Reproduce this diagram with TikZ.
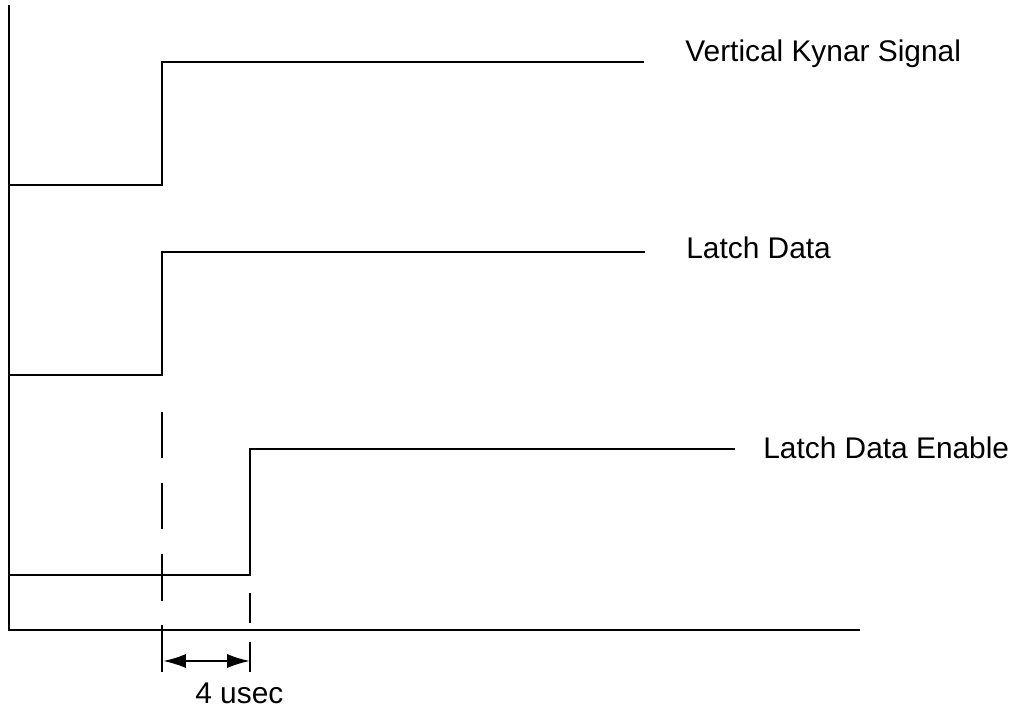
\documentclass[tikz,border=0pt]{standalone}
\usepackage{fontspec}
\setmainfont{Liberation Sans}
\usetikzlibrary{arrows.meta}

\begin{document}
\begin{tikzpicture}[x=0.02cm, y=-0.02cm, font=\fontsize{17}{20}\selectfont]
  \useasboundingbox (0,0) rectangle (1016,707);

  % Define the axis corner coordinates
  \coordinate (top) at (9,5);
  \coordinate (origin) at (9,630);
  \coordinate (right) at (860,630);

  % Draw the axes (L-shape)
  \draw[black, line width=1.4pt] (top) -- (origin) -- (right);

  % Vertical Kynar Signal: low, rising edge, high
  \coordinate (k0) at (9,185);
  \coordinate (k1) at (162,185);
  \coordinate (k2) at (162,62);
  \coordinate (k3) at (644,62);
  \draw[black, line width=1.4pt] (k0) -- (k1) -- (k2) -- (k3);

  % Latch Data
  \coordinate (l0) at (9,375);
  \coordinate (l1) at (162,375);
  \coordinate (l2) at (162,252);
  \coordinate (l3) at (645,252);
  \draw[black, line width=1.4pt] (l0) -- (l1) -- (l2) -- (l3);

  % Latch Data Enable (delayed edge)
  \coordinate (e0) at (9,575);
  \coordinate (e1) at (250,575);
  \coordinate (e2) at (250,449);
  \coordinate (e3) at (735,449);
  \draw[black, line width=1.4pt] (e0) -- (e1) -- (e2) -- (e3);

  % Labels for the signals
  \node[anchor=base west, inner sep=0pt] (kynar) at (685,61) {Vertical Kynar Signal};
  \node[anchor=base west, inner sep=0pt] (latch) at (686,258) {Latch Data};
  \node[anchor=base west, inner sep=0pt] (enable) at (763,458) {Latch Data Enable};

  % Draw marker lines (dashed)
  \coordinate (m1top) at (162,412);
  \coordinate (m1bot) at (162,672);
  \coordinate (m2top) at (250,593);
  \coordinate (m2bot) at (250,672);
  \draw[black, line width=1.4pt, dash pattern=on 26.3pt off 14.2pt] (m1top) -- (m1bot);
  \draw[black, line width=1.4pt, dash pattern=on 17.1pt off 10.8pt] (m2top) -- (m2bot);

  % Delay arrow between the edges
  \coordinate (a1) at (163,661);
  \coordinate (a2) at (250,661);
  \draw[{Latex[length=13pt,width=8pt]}-{Latex[length=13pt,width=8pt]}, line width=1.2pt] (a1) -- (a2);

  % Label the delay
  \node[anchor=base west, inner sep=0pt] (delay) at (195,703) {4 usec};

\end{tikzpicture}
\end{document}
